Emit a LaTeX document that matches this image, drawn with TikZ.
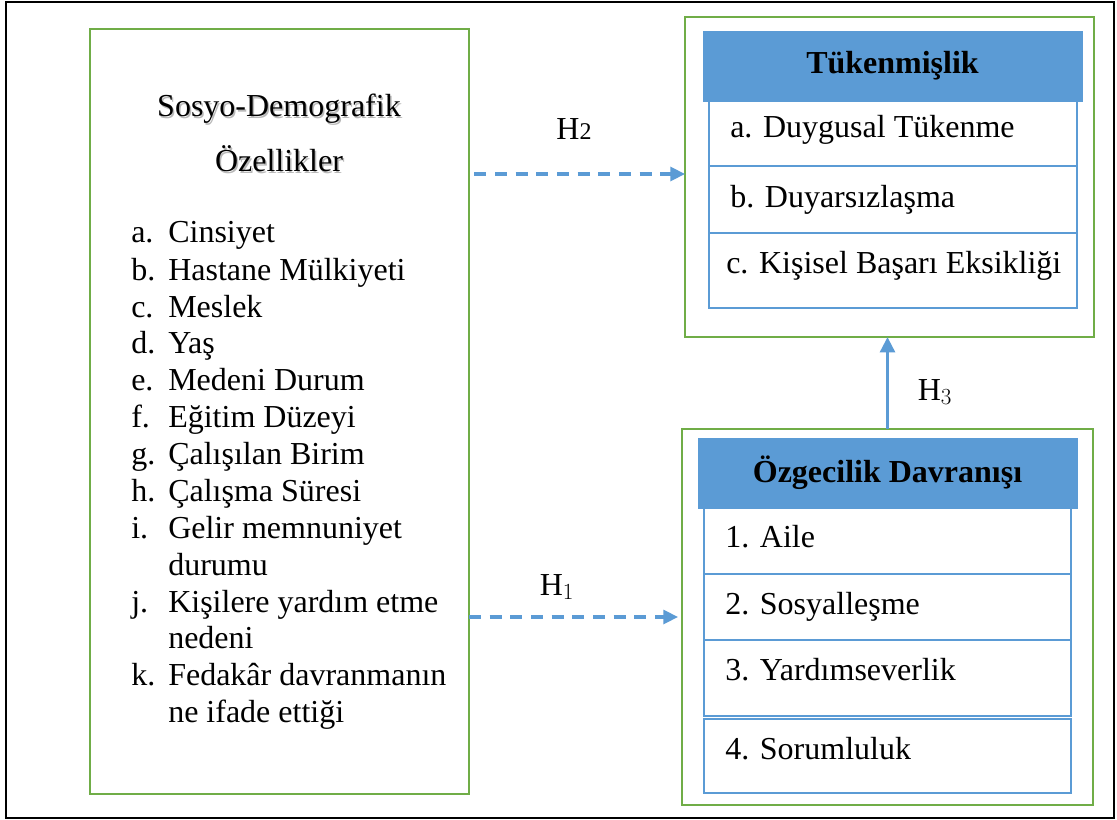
\documentclass[tikz,border=0pt]{standalone}
\usepackage{fontspec}
\setmainfont{Liberation Serif}
\usetikzlibrary{arrows.meta,calc}
\definecolor{grn}{HTML}{70AD47}
\definecolor{blu}{HTML}{5B9BD5}
\begin{document}
\begin{tikzpicture}[x=0.75pt,y=-0.75pt,
  font=\fontsize{24}{28}\selectfont,
  wh/.style 2 args={minimum width=#1*0.75pt,minimum height=#2*0.75pt,inner sep=0pt,outer sep=0pt},
  gbox/.style={draw=grn,line width=2pt,rectangle},
  rowbox/.style={draw=blu,line width=2pt,rectangle,fill=white},
  head/.style={fill=blu,draw=blu,line width=0.5pt,rectangle,font=\fontsize{24}{28}\selectfont\bfseries},
  txt/.style={inner sep=0pt,anchor=base west},
  dasharrow/.style={draw=blu,line width=2.3pt,dash pattern=on 9pt off 6.5pt,-{Triangle[length=11pt,width=10.5pt]}},
  solidarrow/.style={draw=blu,line width=2.6pt,-{Triangle[length=11.5pt,width=11pt]}},
  hlab/.style={inner sep=0pt,anchor=base}]
\useasboundingbox[fill=white] (0,0) rectangle (1117,820);
\draw[line width=1.5pt] (6,2) rectangle (1114,818);

% left box
\node[gbox,wh={379}{765}] (left) at (279.5,411.5) {};
\node[hlab,text=gray!55] (t1s) at (280.5,118.5) {Sosyo-Demografik};
\node[hlab] (t1) at (279,117) {Sosyo-Demografik};
\node[hlab,text=gray!55] (t2s) at (280.5,173.5) {Özellikler};
\node[hlab] (t2) at (279,172) {Özellikler};
\foreach \n/\l/\y in {1/a./243,2/b./280,3/c./317,4/d./353,5/e./390,6/f./427,7/g./464,8/h./501,9/i./538,10/j./612,11/k./685}
  \node[txt] (lab\n) at (131,\y) {\l};
\foreach \n/\t/\y in {1/Cinsiyet/243,2/Hastane Mülkiyeti/280,3/Meslek/317,4/Yaş/353,5/Medeni Durum/390,6/Eğitim Düzeyi/427,7/Çalışılan Birim/464,8/Çalışma Süresi/501,9/Gelir memnuniyet/538,10/durumu/575,11/Kişilere yardım etme/612,12/nedeni/648,13/Fedakâr davranmanın/685,14/ne ifade ettiği/722}
  \node[txt] (item\n) at (168,\y) {\t};

% top right: Tükenmişlik
\node[gbox,wh={409}{320}] (tg) at (889.5,177) {};
\node[rowbox,wh={368}{65}] (ta) at (893,133.5) {};
\node[rowbox,wh={368}{67}] (tb) at (893,199.5) {};
\node[rowbox,wh={368}{75}] (tc) at (893,270.5) {};
\node[head,wh={379}{70}] (th) at (892.5,66) {Tükenmişlik};
\node[txt] (tat) at (730,138) {a. Duygusal Tükenme};
\node[txt] (tbt) at (730,207) {b. Duyarsızlaşma};
\node[txt] (tct) at (726,273) {c. Kişisel Başarı Eksikliği};

% bottom right: Özgecilik Davranışı
\node[gbox,wh={411}{376}] (bg) at (887.5,617) {};
\node[rowbox,wh={367}{66}] (b1) at (887.5,541) {};
\node[rowbox,wh={367}{66}] (b2) at (887.5,607) {};
\node[rowbox,wh={367}{76}] (b3) at (887.5,678) {};
\node[rowbox,wh={367}{74}] (b4) at (887.5,756) {};
\node[head,wh={379}{70}] (bh) at (887.5,473) {Özgecilik Davranışı};
\node[txt] (b1t) at (725,547) {1. Aile};
\node[txt] (b2t) at (725,614) {2. Sosyalleşme};
\node[txt] (b3t) at (725,680) {3. Yardımseverlik};
\node[txt] (b4t) at (725,759) {4. Sorumluluk};

% connectors
\draw[dasharrow,shorten <=4pt] (left.east |- 0,174) -- (tg.west |- 0,174);
\draw[dasharrow,shorten >=3pt] (left.east |- bg.west) -- (bg.west);
\draw[solidarrow] (bg.north) -- (bg.north |- tg.south);

% labels
\node[hlab] (h2) at (574,140) {H{\fontsize{18}{20}\selectfont 2}};
\node[hlab] (h1) at (557,595) {H$_1$};
\node[hlab] (h3) at (935,400) {H$_3$};
\end{tikzpicture}
\end{document}
